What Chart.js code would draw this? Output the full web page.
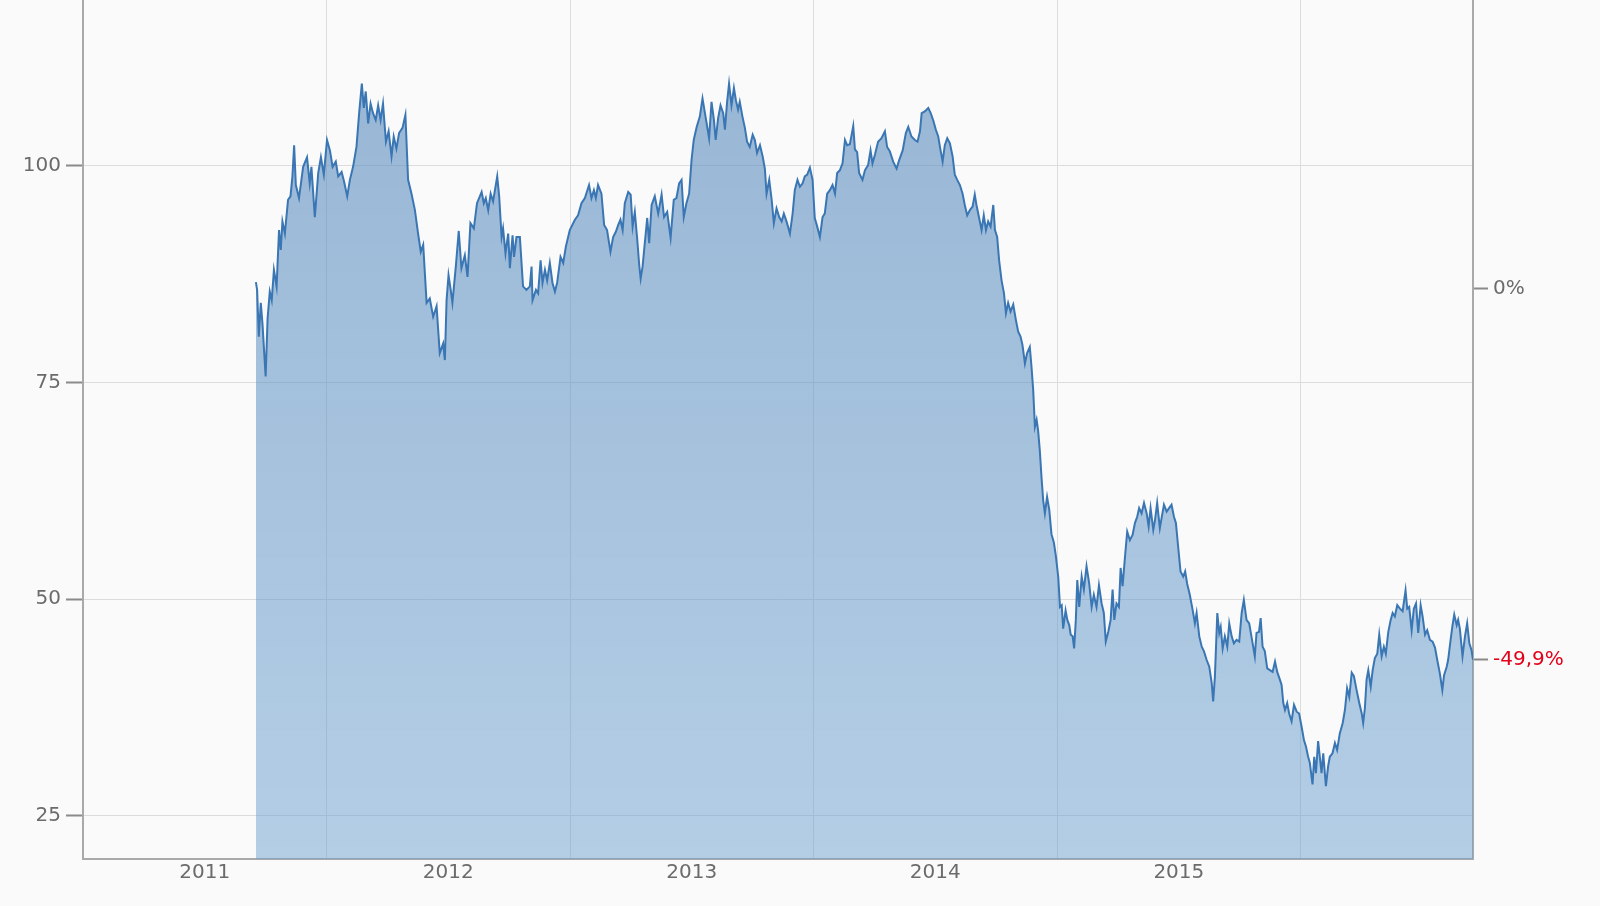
<!DOCTYPE html>
<html>
<head>
<meta charset="utf-8">
<script src="https://cdn.jsdelivr.net/npm/chart.js@4.4.1/dist/chart.umd.min.js"></script>
<style>
html,body{margin:0;padding:0;background:#fafafa;}
#wrap{width:1600px;height:906px;position:relative;}
</style>
</head>
<body>
<div id="wrap"><canvas id="c" width="1600" height="906"></canvas></div>
<script>
// ---- data (x = decimal year, y = price) ----
const dates = [
2011.710,2011.715,2011.722,2011.730,2011.737,2011.750,2011.758,2011.767,2011.775,2011.784,
2011.795,2011.805,2011.812,2011.819,2011.829,2011.842,2011.852,2011.860,2011.867,2011.874,
2011.887,2011.904,2011.920,2011.931,2011.938,2011.952,2011.966,2011.977,2011.989,2012.002,
2012.014,2012.025,2012.038,2012.048,2012.062,2012.072,2012.085,2012.096,2012.109,2012.123,
2012.134,2012.145,2012.153,2012.161,2012.171,2012.181,2012.191,2012.202,2012.212,2012.222,
2012.232,2012.244,2012.255,2012.267,2012.276,2012.287,2012.298,2012.312,2012.324,2012.335,
2012.349,2012.363,2012.376,2012.387,2012.397,2012.411,2012.424,2012.438,2012.452,2012.465,
2012.479,2012.486,2012.493,2012.501,2012.510,2012.517,2012.531,2012.543,2012.554,2012.568,
2012.579,2012.591,2012.605,2012.618,2012.637,2012.646,2012.654,2012.664,2012.674,2012.684,
2012.701,2012.709,2012.719,2012.725,2012.735,2012.746,2012.753,2012.764,2012.770,2012.780,
2012.794,2012.807,2012.821,2012.835,2012.842,2012.846,2012.860,2012.869,2012.879,2012.887,
2012.897,2012.906,2012.917,2012.928,2012.938,2012.947,2012.961,2012.972,2012.983,2012.999,
2013.020,2013.033,2013.047,2013.061,2013.078,2013.088,2013.098,2013.106,2013.115,2013.129,
2013.140,2013.152,2013.166,2013.177,2013.188,2013.198,2013.207,2013.216,2013.225,2013.239,
2013.249,2013.257,2013.266,2013.276,2013.284,2013.290,2013.298,2013.307,2013.317,2013.325,
2013.335,2013.348,2013.362,2013.376,2013.386,2013.399,2013.413,2013.426,2013.437,2013.448,
2013.458,2013.467,2013.478,2013.489,2013.499,2013.508,2013.520,2013.533,2013.544,2013.554,
2013.561,2013.571,2013.581,2013.591,2013.598,2013.608,2013.618,2013.629,2013.636,2013.645,
2013.653,2013.663,2013.673,2013.681,2013.690,2013.697,2013.708,2013.718,2013.727,2013.738,
2013.750,2013.759,2013.768,2013.780,2013.791,2013.800,2013.807,2013.818,2013.828,2013.837,
2013.848,2013.859,2013.869,2013.878,2013.889,2013.903,2013.914,2013.923,2013.934,2013.944,
2013.955,2013.964,2013.974,2013.985,2013.996,2014.005,2014.015,2014.026,2014.037,2014.046,
2014.056,2014.067,2014.078,2014.088,2014.097,2014.108,2014.119,2014.129,2014.138,2014.149,
2014.163,2014.170,2014.179,2014.187,2014.201,2014.211,2014.224,2014.234,2014.242,2014.252,
2014.265,2014.279,2014.293,2014.302,2014.313,2014.327,2014.341,2014.352,2014.366,2014.379,
2014.389,2014.402,2014.416,2014.427,2014.437,2014.444,2014.457,2014.471,2014.481,2014.491,
2014.502,2014.512,2014.519,2014.530,2014.539,2014.549,2014.560,2014.571,2014.580,2014.590,
2014.601,2014.612,2014.621,2014.631,2014.642,2014.653,2014.662,2014.669,2014.680,2014.690,
2014.699,2014.708,2014.717,2014.727,2014.738,2014.745,2014.754,2014.762,2014.772,2014.782,
2014.790,2014.799,2014.809,2014.820,2014.831,2014.840,2014.850,2014.858,2014.868,2014.877,
2014.888,2014.895,2014.902,2014.909,2014.916,2014.922,2014.929,2014.936,2014.943,2014.950,
2014.959,2014.968,2014.977,2014.987,2014.995,2015.005,2015.012,2015.019,2015.025,2015.035,
2015.042,2015.050,2015.056,2015.064,2015.070,2015.077,2015.083,2015.091,2015.101,2015.110,
2015.121,2015.132,2015.142,2015.151,2015.162,2015.172,2015.183,2015.192,2015.200,2015.210,
2015.220,2015.228,2015.235,2015.244,2015.254,2015.261,2015.269,2015.279,2015.288,2015.299,
2015.310,2015.320,2015.329,2015.337,2015.347,2015.357,2015.368,2015.376,2015.384,2015.395,
2015.402,2015.411,2015.422,2015.430,2015.439,2015.450,2015.460,2015.470,2015.480,2015.488,
2015.497,2015.507,2015.518,2015.526,2015.534,2015.545,2015.557,2015.566,2015.573,2015.584,
2015.594,2015.603,2015.614,2015.625,2015.635,2015.641,2015.648,2015.658,2015.666,2015.672,
2015.680,2015.689,2015.699,2015.707,2015.717,2015.726,2015.737,2015.748,2015.758,2015.767,
2015.778,2015.789,2015.803,2015.812,2015.819,2015.829,2015.836,2015.844,2015.853,2015.863,
2015.874,2015.885,2015.895,2015.904,2015.915,2015.922,2015.929,2015.936,2015.945,2015.953,
2015.963,2015.973,2015.984,2015.994,2016.004,2016.014,2016.022,2016.031,2016.038,2016.049,
2016.056,2016.063,2016.072,2016.079,2016.086,2016.093,2016.104,2016.113,2016.120,2016.131,
2016.141,2016.150,2016.161,2016.173,2016.182,2016.191,2016.200,2016.210,2016.219,2016.230,
2016.241,2016.251,2016.257,2016.264,2016.271,2016.278,2016.288,2016.296,2016.305,2016.315,
2016.323,2016.333,2016.342,2016.350,2016.360,2016.370,2016.378,2016.387,2016.397,2016.408,
2016.419,2016.431,2016.438,2016.446,2016.456,2016.465,2016.474,2016.483,2016.493,2016.501,
2016.511,2016.520,2016.531,2016.542,2016.552,2016.561,2016.572,2016.582,2016.589,2016.600,
2016.606,2016.616,2016.624,2016.631,2016.641,2016.647,2016.654,2016.665,2016.675,2016.684,
2016.693,2016.702,2016.708
];
const prices = [
86.6,85.7,80.3,84.2,81.8,75.7,82.4,85.5,84.5,88.0,
86.1,92.6,90.3,93.6,92.2,96.1,96.5,98.8,102.4,97.8,
96.3,99.9,101.0,98.0,99.9,94.1,99.2,101.0,99.0,103.0,
101.8,99.9,100.5,98.8,99.3,98.2,96.5,98.4,99.9,102.2,
106.1,109.5,106.7,108.6,104.9,107.2,106.1,105.3,107.0,105.3,
107.2,102.8,104.0,101.1,103.4,102.0,103.8,104.4,105.9,98.4,
96.8,94.9,92.2,90.1,90.9,84.2,84.7,82.6,83.8,78.4,
79.5,77.6,84.5,87.4,85.7,84.2,88.4,92.5,88.2,89.7,
87.2,93.4,92.8,95.7,97.0,95.7,96.3,94.9,96.8,95.9,
98.8,96.5,91.8,92.8,89.9,92.2,88.2,92.0,89.5,91.8,
91.8,86.1,85.7,86.1,88.4,84.5,85.7,85.3,89.1,86.5,
88.0,86.8,88.8,86.5,85.5,86.5,89.5,88.8,90.7,92.6,
93.8,94.3,95.7,96.3,97.8,96.3,97.2,96.3,97.8,96.8,
93.2,92.6,90.1,91.8,92.4,93.2,93.8,92.6,95.7,97.0,
96.7,93.0,94.7,91.5,88.6,87.0,88.4,91.1,94.0,91.1,
95.5,96.5,94.5,96.7,94.1,94.7,91.7,96.1,96.3,98.0,
98.4,94.1,95.7,96.8,100.7,103.0,104.5,105.7,107.8,106.1,
104.9,103.2,107.4,105.3,103.0,105.5,107.0,106.1,104.2,107.4,
109.5,107.0,109.0,107.6,106.5,107.4,105.7,104.4,102.8,102.2,
103.6,103.0,101.5,102.4,101.1,99.7,96.8,98.4,96.1,93.4,
95.1,94.1,93.6,94.5,93.6,92.2,94.5,97.2,98.4,97.6,
98.0,98.8,99.0,99.8,98.4,94.0,93.0,91.8,94.1,94.5,
96.8,97.2,97.8,96.8,99.2,99.5,100.3,103.0,102.4,102.5,
104.6,101.9,101.6,99.2,98.4,99.5,100.1,101.8,100.3,101.3,
102.8,103.2,104.0,102.2,101.7,100.5,99.7,100.7,101.8,103.8,
104.5,103.4,103.0,102.8,104.0,106.1,106.3,106.7,106.1,105.3,
104.2,103.4,102.2,100.5,102.4,103.2,102.6,101.1,99.0,98.4,
97.8,96.8,95.5,94.3,94.9,95.3,96.7,95.5,94.0,92.6,
94.3,92.6,93.6,93.0,95.5,92.6,91.8,89.1,86.8,85.3,
83.0,84.2,83.2,84.0,82.2,80.9,80.3,79.3,77.2,78.4,
79.1,76.8,74.1,69.9,70.7,69.5,67.2,64.1,61.4,59.9,
61.8,60.3,57.5,56.5,55.0,52.5,49.1,49.3,46.6,48.7,
47.6,47.0,45.9,45.7,44.3,47.6,52.2,49.1,52.6,51.1,
53.8,51.8,49.1,50.5,49.1,51.6,49.5,48.4,45.1,46.2,
47.6,51.1,47.6,49.5,49.1,53.6,51.5,54.9,57.8,56.8,
57.4,58.8,59.5,60.5,59.9,61.1,59.9,58.4,60.5,58.0,
59.1,61.1,58.2,59.5,60.9,60.1,60.5,60.9,59.5,58.8,
56.1,53.2,52.6,53.2,51.8,50.5,48.7,47.2,48.4,45.7,
44.5,44.0,43.0,42.2,40.3,38.2,41.0,48.4,46.1,46.8,
44.3,45.7,44.5,47.2,45.7,44.9,45.3,45.1,48.4,49.9,
47.6,47.2,44.9,43.4,46.1,46.2,47.8,44.5,44.0,42.0,
41.8,41.6,42.8,41.6,40.7,40.1,38.0,37.2,38.0,36.8,
35.9,37.8,37.0,36.8,35.3,33.7,33.0,31.8,31.1,28.6,
31.8,29.9,33.6,31.8,29.9,32.2,28.4,30.7,31.8,32.2,
33.4,32.6,34.5,35.7,37.2,39.7,38.7,41.5,41.1,39.5,
38.0,36.8,35.7,37.4,40.7,41.8,39.9,41.8,43.2,43.7,
45.9,43.4,44.5,43.7,46.2,47.6,48.4,48.0,49.3,48.9,
48.6,51.0,48.9,49.1,46.4,48.9,49.5,46.1,49.3,48.0,
45.9,46.4,45.3,45.1,44.4,43.0,41.4,39.5,41.2,42.2,
43.0,45.3,47.0,48.2,47.0,47.6,46.6,43.4,45.7,47.2,
44.9,44.1,43.0
];
const yTicks = [25, 50, 75, 100];
const yRange = [20, 119.16];
const xRange = [2011, 2016.708];
const yearLabels = ['2011', '2012', '2013', '2014', '2015'];
const gridYears = [2012, 2013, 2014, 2015, 2016];
const basePrice = 85.8;

// ---- derived ----
const lastPct = (prices[prices.length - 1] / basePrice - 1) * 100;
const pctTicks = [lastPct, 0];
const labelPos = yearLabels.map(y => Number(y) + 0.5);

const GRID = '#dcdcdc';
const AXIS = '#a9a9a9';
const TICKC = '#8a8a8a';
const TEXT = '#6b6b6b';
const RED = '#e3001b';

Chart.defaults.font.family = "'DejaVu Sans', Verdana, sans-serif";
Chart.defaults.font.size = 20;
Chart.defaults.color = TEXT;

function noPad(s) { s.paddingTop = 0; s.paddingBottom = 0; s.paddingLeft = 0; s.paddingRight = 0; }

const ctx = document.getElementById('c').getContext('2d');
new Chart(ctx, {
  type: 'line',
  data: {
    datasets: [{
      data: dates.map((d, i) => ({ x: d, y: prices[i] })),
      borderColor: '#3a76b3',
      borderWidth: 2,
      pointRadius: 0,
      tension: 0,
      fill: 'start',
      backgroundColor: (c) => {
        const a = c.chart.chartArea;
        if (!a) return 'rgba(100,150,200,0.55)';
        const g = c.chart.ctx.createLinearGradient(0, a.top, 0, a.bottom);
        g.addColorStop(0, 'rgba(88,138,188,0.62)');
        g.addColorStop(1, 'rgba(108,160,207,0.5)');
        return g;
      },
      xAxisID: 'x',
      yAxisID: 'y'
    }]
  },
  options: {
    responsive: false,
    animation: false,
    events: [],
    layout: { padding: 0 },
    plugins: { legend: { display: false }, tooltip: { enabled: false } },
    scales: {
      x: {
        type: 'linear',
        position: 'bottom',
        min: xRange[0],
        max: xRange[1],
        afterBuildTicks: (s) => {
          s.ticks = labelPos.concat(gridYears).sort((a, b) => a - b).map(v => ({ value: v }));
        },
        afterFit: (s) => { s.height = 47; noPad(s); },
        ticks: {
          autoSkip: false,
          maxRotation: 0,
          minRotation: 0,
          padding: 2,
          color: TEXT,
          callback: (v) => {
            const i = labelPos.indexOf(v);
            return i >= 0 ? yearLabels[i] : '';
          }
        },
        grid: {
          color: (c) => (c.tick && gridYears.includes(c.tick.value)) ? GRID : 'rgba(0,0,0,0)',
          lineWidth: 1,
          drawTicks: false
        },
        border: { display: true, color: AXIS, width: 2 }
      },
      y: {
        type: 'linear',
        position: 'left',
        min: yRange[0],
        max: yRange[1],
        afterBuildTicks: (s) => { s.ticks = yTicks.map(v => ({ value: v })); },
        afterFit: (s) => { s.width = 83; noPad(s); },
        ticks: { padding: 5, color: TEXT, callback: (v) => String(v) },
        grid: { color: GRID, lineWidth: 1, tickColor: TICKC, tickLength: 17, tickWidth: 2 },
        border: { display: true, color: AXIS, width: 2 }
      },
      y2: {
        type: 'linear',
        position: 'right',
        min: (yRange[0] / basePrice - 1) * 100,
        max: (yRange[1] / basePrice - 1) * 100,
        afterBuildTicks: (s) => { s.ticks = pctTicks.map(v => ({ value: v })); },
        afterFit: (s) => { s.width = 127; noPad(s); },
        ticks: {
          padding: 5,
          color: (c) => (c.tick && c.tick.value < -0.001) ? RED : TEXT,
          callback: (v) => Math.abs(v) < 0.001 ? '0%' : v.toFixed(1).replace('.', ',') + '%'
        },
        grid: { drawOnChartArea: false, tickColor: TICKC, tickLength: 15, tickWidth: 2 },
        border: { display: true, color: AXIS, width: 2 }
      }
    }
  }
});
</script>
</body>
</html>
